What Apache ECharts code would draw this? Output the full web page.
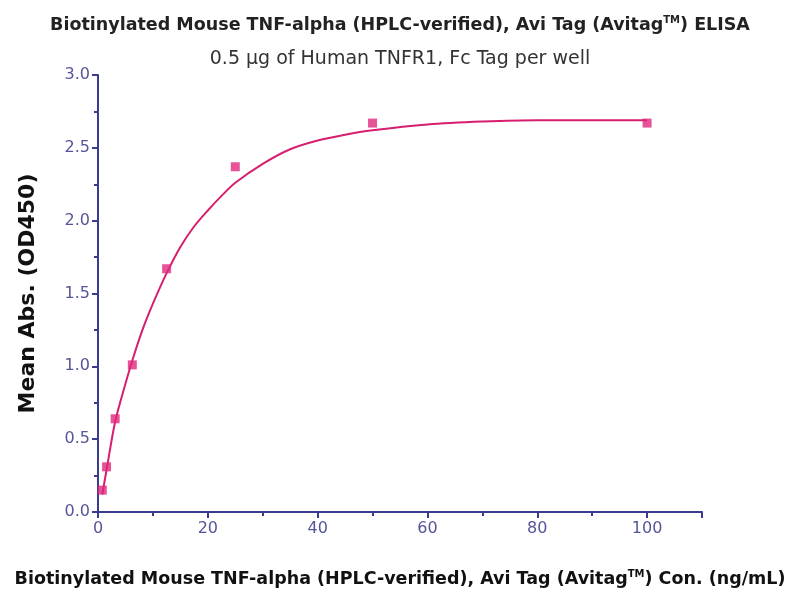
<!DOCTYPE html>
<html><head><meta charset="utf-8">
<script src="https://cdn.jsdelivr.net/npm/echarts@6/dist/echarts.min.js"></script>
<style>html,body{margin:0;padding:0;background:#fff}#c{width:800px;height:600px}</style>
</head><body><div id="c"></div>
<script>
const concentrations = [0.78, 1.56, 3.125, 6.25, 12.5, 25, 50, 100];
const meanAbs = [0.15, 0.31, 0.64, 1.01, 1.67, 2.37, 2.67, 2.67];
const fitX = [0.78, 1.56, 3.125, 5, 6.25, 8, 10, 12.5, 15, 17.5, 20, 22.5, 25, 30, 35, 40, 45, 50, 60, 70, 80, 90, 100];
const fitY = [0.12, 0.29, 0.62, 0.88, 1.04, 1.24, 1.43, 1.64, 1.82, 1.96, 2.07, 2.17, 2.26, 2.39, 2.49, 2.55, 2.59, 2.62, 2.66, 2.68, 2.69, 2.69, 2.69];

const axisColor = '#3b3b8f';
const labelColor = '#55559a';
const font = '"DejaVu Sans", sans-serif';
const chart = echarts.init(document.getElementById('c'));
const supStyle = (c) => ({ fontFamily: font, fontSize: 10, fontWeight: 'bold', color: c, verticalAlign: 'top', padding: [0, 0, 10, 0] });
chart.setOption({
  backgroundColor: '#fff',
  animation: false,
  title: [
    { text: 'Biotinylated Mouse TNF-alpha (HPLC-verified), Avi Tag (Avitag{sup|TM}) ELISA',
      left: 'center', top: 10,
      textStyle: { fontFamily: font, fontSize: 17.5, fontWeight: 'bold', color: '#222',
        rich: { sup: supStyle('#222') } } },
    { text: '0.5 μg of Human TNFR1, Fc Tag per well', left: 'center', top: 45,
      textStyle: { fontFamily: font, fontSize: 19, fontWeight: 'normal', color: '#333' } }
  ],
  grid: { left: 98, right: 98, top: 75, bottom: 88 },
  xAxis: {
    type: 'value', min: 0, max: 110, interval: 20,
    name: 'Biotinylated Mouse TNF-alpha (HPLC-verified), Avi Tag (Avitag{sup|TM}) Con. (ng/mL)',
    nameLocation: 'middle', nameGap: 57, nameTextStyle: { fontFamily: font, fontSize: 17.5, fontWeight: 'bold', color: '#111',
      align: 'center', rich: { sup: supStyle('#111') } },
    axisLine: { lineStyle: { color: axisColor, width: 2 } },
    axisTick: { show: true, length: 6, lineStyle: { color: axisColor, width: 2 } },
    minorTick: { show: true, splitNumber: 2, length: 4, lineStyle: { color: axisColor, width: 2 } },
    axisLabel: { color: labelColor, fontFamily: font, fontSize: 16, margin: 9, showMaxLabel: false },
    splitLine: { show: false }
  },
  yAxis: {
    type: 'value', min: 0, max: 3, interval: 0.5,
    name: 'Mean Abs. (OD450)', nameLocation: 'middle', nameGap: 59,
    nameTextStyle: { fontFamily: font, fontSize: 22, fontWeight: 'bold', color: '#111' },
    axisLine: { lineStyle: { color: axisColor, width: 2 } },
    axisTick: { show: true, length: 6, lineStyle: { color: axisColor, width: 2 } },
    minorTick: { show: true, splitNumber: 2, length: 4, lineStyle: { color: axisColor, width: 2 } },
    axisLabel: { color: labelColor, fontFamily: font, fontSize: 16, margin: 8, formatter: v => v.toFixed(1) },
    splitLine: { show: false }
  },
  series: [
    { type: 'line', data: fitX.map((x, i) => [x, fitY[i]]), smooth: 0.3, showSymbol: false,
      lineStyle: { color: '#d61f6e', width: 2 }, z: 2 },
    { type: 'scatter', data: concentrations.map((x, i) => [x, meanAbs[i]]), symbol: 'rect', symbolSize: 9,
      itemStyle: { color: '#e0287c' }, z: 3 }
  ]
});
</script></body></html>
